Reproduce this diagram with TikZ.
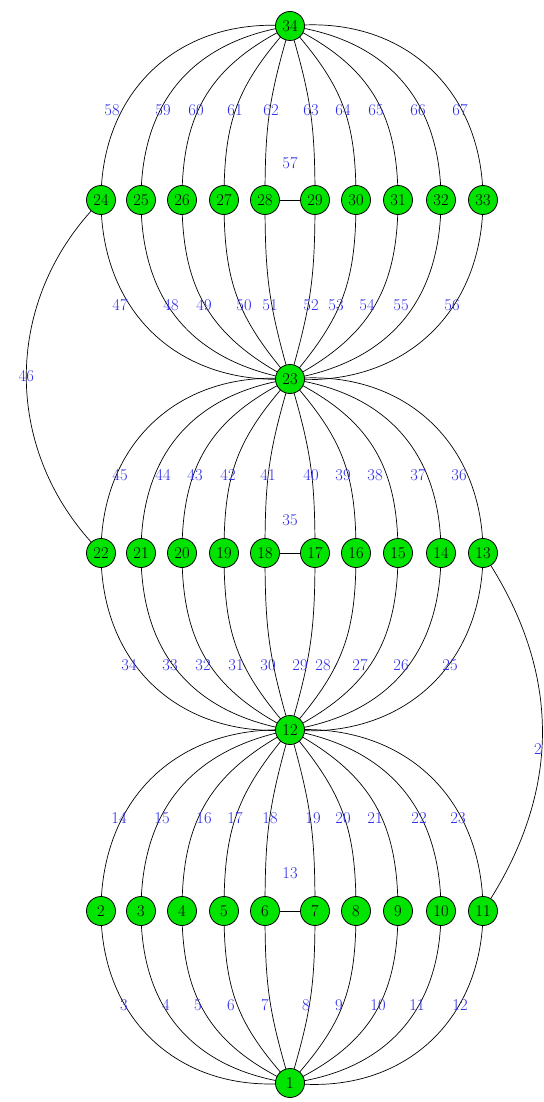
\documentclass[tikz,border=0pt]{standalone}
\usepackage{fontspec}
\usepackage{xcolor}
\usepackage{tikz}

\definecolor{vgreen}{RGB}{0,228,0}
\definecolor{elblue}{RGB}{40,40,230}

\pgfdeclarelayer{edges}
\pgfsetlayers{edges,main}

\tikzset{
  vtx/.style={circle,draw=black,fill=vgreen,line width=0.8pt,minimum size=29pt,inner sep=0pt,font=\fontsize{16.5}{19}\selectfont},
  elab/.style={text=elblue,inner sep=1pt,font=\fontsize{16.5}{19}\selectfont},
  edge/.style={draw=black,line width=0.7pt},
  arc/.style={out=#1,relative,looseness=1.1}
}

\begin{document}
\begin{tikzpicture}[x=1pt,y=-1pt]
 \useasboundingbox (0,0) rectangle (543,1102);

 % hubs
 \node[vtx] (v1) at (290,1083) {1};
 \node[vtx] (v12) at (290,730) {12};
 \node[vtx] (v23) at (290,379) {23};
 \node[vtx] (v34) at (290,26) {34};

 % rows
 \foreach \i/\x in {2/101,3/141,4/182,5/224,6/265,7/315,8/356,9/398,10/441,11/483}
   \node[vtx] (v\i) at (\x,911) {\i};
 \foreach \i/\x in {22/101,21/141,20/182,19/224,18/265,17/315,16/356,15/398,14/441,13/483}
   \node[vtx] (v\i) at (\x,553) {\i};
 \foreach \i/\x in {24/101,25/141,26/182,27/224,28/265,29/315,30/356,31/398,32/441,33/483}
   \node[vtx] (v\i) at (\x,200) {\i};

 \begin{pgfonlayer}{edges}
 \foreach \i/\x in {2/101,3/141,4/182,5/224,6/265,7/315,8/356,9/398,10/441,11/483} {
   \pgfmathsetmacro\oa{atan((\x-290)/172)}
   \pgfmathsetmacro\ia{180+atan((290-\x)/172)}
   \draw[edge] (v\i.center) to[arc=\oa,in=\ia] (v1.center);
   \pgfmathsetmacro\ob{atan((290-\x)/181)}
   \pgfmathsetmacro\ib{180+atan((\x-290)/181)}
   \draw[edge] (v\i.center) to[arc=\ob,in=\ib] (v12.center);
 }
 \foreach \i/\x in {22/101,21/141,20/182,19/224,18/265,17/315,16/356,15/398,14/441,13/483} {
   \pgfmathsetmacro\oa{atan((\x-290)/177)}
   \pgfmathsetmacro\ia{180+atan((290-\x)/177)}
   \draw[edge] (v\i.center) to[arc=\oa,in=\ia] (v12.center);
   \pgfmathsetmacro\ob{atan((290-\x)/174)}
   \pgfmathsetmacro\ib{180+atan((\x-290)/174)}
   \draw[edge] (v\i.center) to[arc=\ob,in=\ib] (v23.center);
 }
 \foreach \i/\x in {24/101,25/141,26/182,27/224,28/265,29/315,30/356,31/398,32/441,33/483} {
   \pgfmathsetmacro\oa{atan((\x-290)/179)}
   \pgfmathsetmacro\ia{180+atan((290-\x)/179)}
   \draw[edge] (v\i.center) to[arc=\oa,in=\ia] (v23.center);
   \pgfmathsetmacro\ob{atan((290-\x)/174)}
   \pgfmathsetmacro\ib{180+atan((\x-290)/174)}
   \draw[edge] (v\i.center) to[arc=\ob,in=\ib] (v34.center);
 }

 \draw[edge] (v6) -- (v7) node[elab,midway,yshift=38pt] (l13) {13};
 \draw[edge] (v18) -- (v17) node[elab,midway,yshift=33pt] (l35) {35};
 \draw[edge] (v28) -- (v29) node[elab,midway,yshift=37pt] (l57) {57};

 \draw[edge] (v22) to[bend left=42] node[elab,pos=.5] (l46) {46} (v24);
 \draw[edge] (v11) to[bend right=32] node[elab,pos=.45,xshift=-4pt] (l2) {2} (v13);
 \end{pgfonlayer}

 % edge numbers
 \foreach \n/\x in {3/124,4/166,5/198,6/231,7/265,8/306,9/339,10/378,11/417,12/460}
   \node[elab] (l\n) at (\x,1005) {\n};
 \foreach \n/\x in {14/119,15/162,16/204,17/235,18/270,19/313,20/343,21/375,22/419,23/458}
   \node[elab] (l\n) at (\x,818) {\n};
 \foreach \n/\x in {25/450,26/401,27/360,28/323,29/300,30/268,31/236,32/203,33/170,34/129}
   \node[elab] (l\n) at (\x,665) {\n};
 \foreach \n/\x in {36/459,37/418,38/375,39/343,40/311,41/268,42/228,43/195,44/163,45/120}
   \node[elab] (l\n) at (\x,475) {\n};
 \foreach \n/\x in {47/120,48/171,49/204,50/244,51/270,52/311,53/336,54/367,55/401,56/452}
   \node[elab] (l\n) at (\x,305) {\n};
 \foreach \n/\x in {58/112,59/163,60/196,61/235,62/271,63/311,64/343,65/376,66/418,67/460}
   \node[elab] (l\n) at (\x,110) {\n};
\end{tikzpicture}
\end{document}
